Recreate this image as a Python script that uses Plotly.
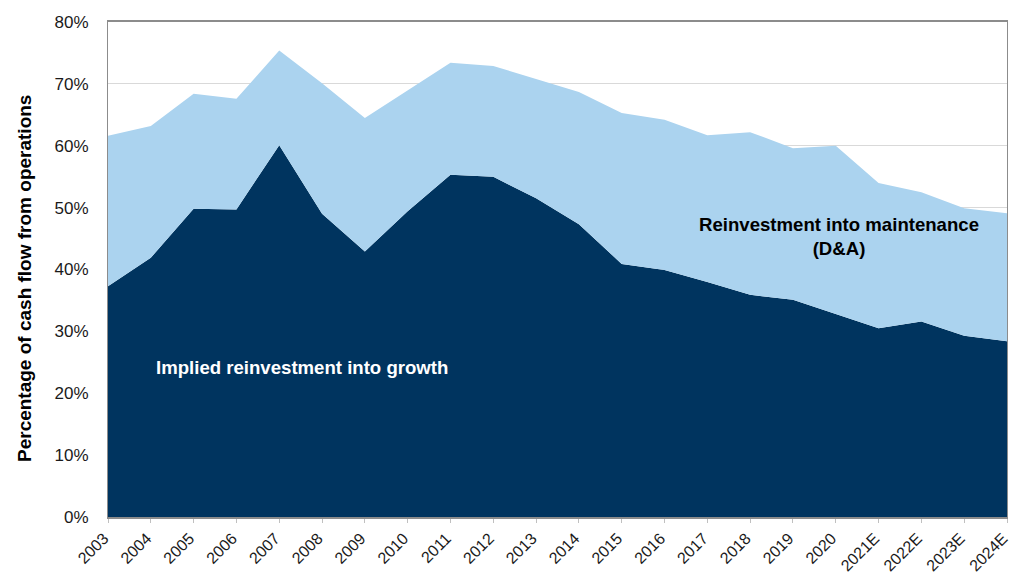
import plotly.graph_objects as go

# years on the x axis
years = ["2003", "2004", "2005", "2006", "2007", "2008", "2009", "2010", "2011",
         "2012", "2013", "2014", "2015", "2016", "2017", "2018", "2019", "2020",
         "2021E", "2022E", "2023E", "2024E"]

# implied reinvestment into growth (% of CFO)
growth = [37.3, 41.9, 49.8, 49.7, 60.1, 49.0, 42.9, 49.4, 55.3, 55.0, 51.5,
          47.3, 40.9, 39.9, 38.0, 35.9, 35.1, 32.8, 30.5, 31.6, 29.3, 28.4]

# total reinvestment = growth + maintenance (D&A), top edge of the light area
total = [61.6, 63.2, 68.4, 67.6, 75.4, 70.1, 64.5, 68.9, 73.4, 72.9, 70.8,
         68.7, 65.3, 64.2, 61.7, 62.2, 59.6, 60.0, 54.0, 52.5, 49.9, 49.1]

y_ticks = [0, 10, 20, 30, 40, 50, 60, 70, 80]

DARK = "#00345F"
LIGHT = "#ABD3EF"
FONT = "Liberation Sans, Arial, sans-serif"

W, H = 1009, 574
M = dict(l=108, r=2, t=22, b=57)

fig = go.Figure()
fig.add_trace(go.Scatter(
    x=years, y=growth, mode="lines", line=dict(width=0, color=DARK),
    fill="tozeroy", fillcolor=DARK, name="Growth",
))
fig.add_trace(go.Scatter(
    x=years, y=total, mode="lines", line=dict(width=0, color=LIGHT),
    fill="tonexty", fillcolor=LIGHT, name="Maintenance (D&A)",
))

fig.add_annotation(
    x=4.52, y=24.2, xref="x", yref="y", showarrow=False,
    text="<b>Implied reinvestment into growth</b>",
    font=dict(family=FONT, size=18.6, color="white"),
)
fig.add_annotation(
    x=17.07, y=45.4, xref="x", yref="y", showarrow=False,
    text="<b>Reinvestment into maintenance<br>(D&A)</b>",
    font=dict(family=FONT, size=18.6, color="black"), align="center",
)
# y axis title placed by hand (pixel position converted to paper coords)
fig.add_annotation(
    x=(24 - M["l"]) / (W - M["l"] - M["r"]),
    y=(H - M["b"] - 279) / (H - M["t"] - M["b"]),
    xref="paper", yref="paper", xanchor="center", yanchor="middle",
    showarrow=False,
    text="<b>Percentage of cash flow from operations</b>", textangle=-90,
    font=dict(family=FONT, size=19, color="black"),
)

fig.update_layout(
    width=W, height=H, margin=M,
    paper_bgcolor="white", plot_bgcolor="white",
    showlegend=False,
    font=dict(family=FONT, color="#1a1a1a"),
)
fig.update_xaxes(
    type="category", range=[0, len(years) - 1], automargin=False,
    tickangle=-45, tickfont=dict(size=16), ticklabelshift=-4,
    showline=True, linecolor="#8c8c8c", linewidth=1.5, mirror=True,
    ticks="outside", ticklen=4, tickcolor="#c0c0c0",
    showgrid=False, zeroline=False,
)
fig.update_yaxes(
    range=[0, 80], tickvals=y_ticks, ticktext=[f"{v}%" for v in y_ticks],
    automargin=False,
    tickfont=dict(size=17), ticks="", ticklabelstandoff=15,
    showline=True, linecolor="#8c8c8c", linewidth=1, mirror=True,
    showgrid=True, gridcolor="#d9d9d9", gridwidth=1, zeroline=False,
)

# drop the default page margin so the figure fills the window exactly
fig.write_html(
    "out.html",
    config={"displayModeBar": False},
    post_script="document.body.style.margin='0';",
)
